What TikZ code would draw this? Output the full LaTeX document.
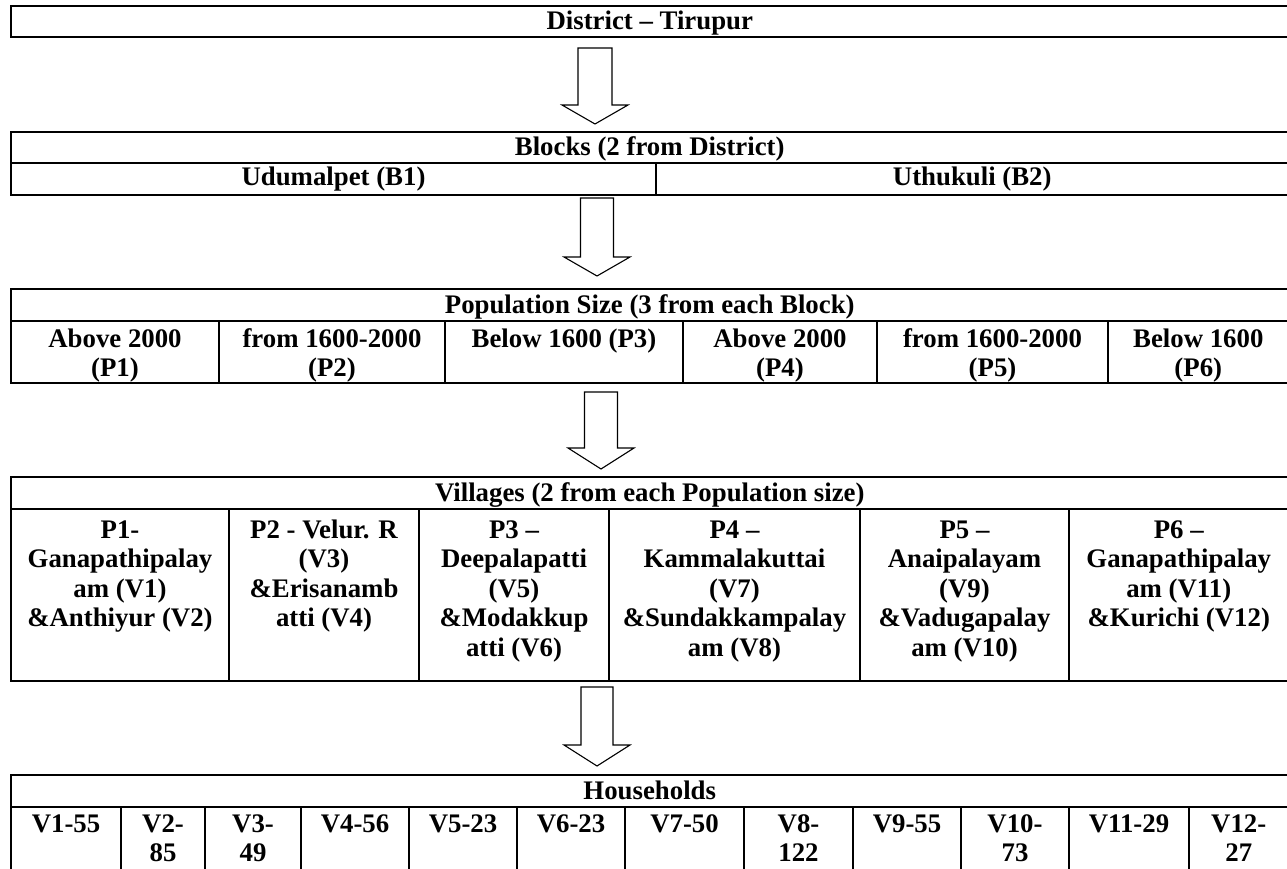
\documentclass[tikz,border=0pt]{standalone}
\usepackage{fontspec}
\setmainfont{Liberation Serif}
\newcommand\ml[1]{\begin{tabular}[t]{@{}c@{}}#1\end{tabular}}
\tikzset{
  cellbox/.style={draw, line width=1.6pt, inner sep=0pt, outer sep=0pt, anchor=north west},
  celltext/.style={anchor=base, inner sep=0pt, font=\fontsize{26.8}{29.5}\selectfont\bfseries},
  arrowline/.style={draw, line width=1.1pt, line join=miter}
}
% name x1 y1 x2 y2 baseline-offset text
\newcommand\tcell[7]{%
  \node[cellbox, minimum width={(#4-#2)*1pt}, minimum height={(#5-#3)*1pt}] (#1) at (#2,#3) {};
  \node[celltext] (#1-t) at ({(#2+#4)/2},{#3+#6}) {#7};}
% name cx top headY tip halfshaft halfhead
\newcommand\blockarrow[7]{%
  \coordinate (#1-top) at (#2,#3);
  \coordinate (#1-tip) at (#2,#5);
  \draw[arrowline] ({#2-#6},#3) -- ({#2+#6},#3) -- ({#2+#6},#4) -- ({#2+#7},#4)
    -- (#1-tip) -- ({#2-#7},#4) -- ({#2-#6},#4) -- cycle;}
\begin{document}
\begin{tikzpicture}[x=1pt,y=-1pt]
\useasboundingbox (0,0) rectangle (1287,869);
% District
\tcell{dist}{11}{6}{1288.5}{37}{23.5}{District – Tirupur}
\blockarrow{a1}{595}{48}{105}{124}{17}{33}
% Blocks
\tcell{blk}{11}{132}{1288.5}{163}{23.5}{Blocks (2 from District)}
\tcell{b1}{11}{163}{656}{195}{22.5}{Udumalpet (B1)}
\tcell{b2}{656}{163}{1288.5}{195}{22.5}{Uthukuli (B2)}
\blockarrow{a2}{597}{198}{257}{276}{16.5}{33}
% Population
\tcell{pop}{11}{289}{1288.5}{321}{24}{Population Size (3 from each Block)}
\tcell{p1}{11}{321}{219}{383}{26}{\ml{Above 2000\\(P1)}}
\tcell{p2}{219}{321}{445}{383}{26}{\ml{from 1600-2000\\(P2)}}
\tcell{p3}{445}{321}{683}{383}{26}{\ml{Below 1600 (P3)}}
\tcell{p4}{683}{321}{877}{383}{26}{\ml{Above 2000\\(P4)}}
\tcell{p5}{877}{321}{1108}{383}{26}{\ml{from 1600-2000\\(P5)}}
\tcell{p6}{1108}{321}{1288.5}{383}{26}{\ml{Below 1600\\(P6)}}
\blockarrow{a3}{601}{392}{448}{469}{16.5}{33}
% Villages
\tcell{vil}{11}{477}{1288.5}{509}{24}{Villages (2 from each Population size)}
\tcell{v1}{11}{509}{229}{681}{29}{\ml{P1-\\Ganapathipalay\\am (V1)\\\&Anthiyur (V2)}}
\tcell{v2}{229}{509}{419}{681}{29}{\ml{P2 - Velur. R\\(V3)\\\&Erisanamb\\atti (V4)}}
\tcell{v3}{419}{509}{609}{681}{29}{\ml{P3 –\\Deepalapatti\\(V5)\\\&Modakkup\\atti (V6)}}
\tcell{v4}{609}{509}{860}{681}{29}{\ml{P4 –\\Kammalakuttai\\(V7)\\\&Sundakkampalay\\am (V8)}}
\tcell{v5}{860}{509}{1069}{681}{29}{\ml{P5 –\\Anaipalayam\\(V9)\\\&Vadugapalay\\am (V10)}}
\tcell{v6}{1069}{509}{1288.5}{681}{29}{\ml{P6 –\\Ganapathipalay\\am (V11)\\\&Kurichi (V12)}}
\blockarrow{a4}{597}{687}{745}{766}{16}{33}
% Households
\tcell{hh}{11}{775}{1288.5}{807}{24}{Households}
\tcell{h1}{11}{807}{121}{880}{25}{\ml{V1-55}}
\tcell{h2}{121}{807}{205}{880}{25}{\ml{V2-\\85}}
\tcell{h3}{205}{807}{301}{880}{25}{\ml{V3-\\49}}
\tcell{h4}{301}{807}{409}{880}{25}{\ml{V4-56}}
\tcell{h5}{409}{807}{517}{880}{25}{\ml{V5-23}}
\tcell{h6}{517}{807}{625}{880}{25}{\ml{V6-23}}
\tcell{h7}{625}{807}{744}{880}{25}{\ml{V7-50}}
\tcell{h8}{744}{807}{853}{880}{25}{\ml{V8-\\122}}
\tcell{h9}{853}{807}{961}{880}{25}{\ml{V9-55}}
\tcell{h10}{961}{807}{1069}{880}{25}{\ml{V10-\\73}}
\tcell{h11}{1069}{807}{1189}{880}{25}{\ml{V11-29}}
\tcell{h12}{1189}{807}{1288.5}{880}{25}{\ml{V12-\\27}}
\end{tikzpicture}
\end{document}
